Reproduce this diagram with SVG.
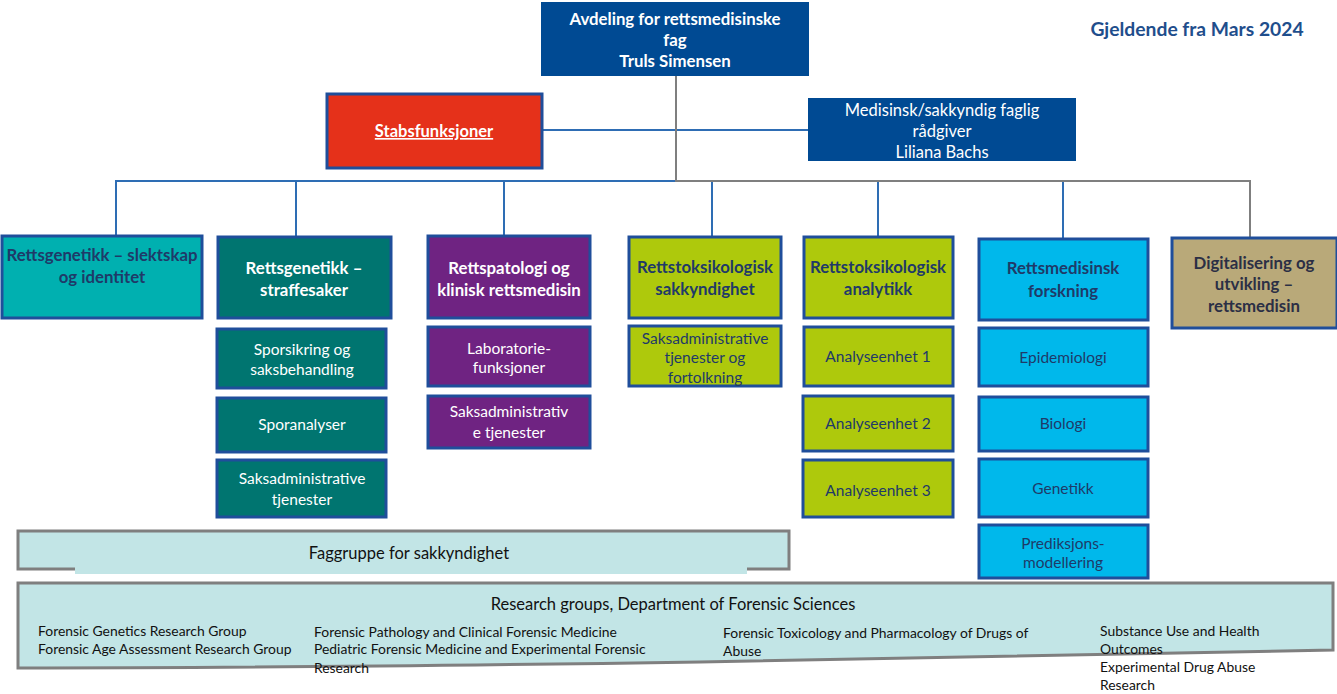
<svg xmlns="http://www.w3.org/2000/svg" width="1337" height="694" viewBox="0 0 1337 694">
<style>
text{font-family:Lato,"Open Sans","Liberation Sans",sans-serif;text-anchor:middle}
.b{font-weight:bold;font-size:16.8px}
.n{font-size:15.5px}
.m{font-size:16.5px}
.w{fill:#ffffff}
.d{fill:#1f3a68}
.box{stroke:#1f4e9b;stroke-width:3}
.teal{fill:#00b0b0}.dteal{fill:#007570}.purp{fill:#6f2382}.lime{fill:#aec90c}.cyan{fill:#00b8eb}.tan{fill:#b9a979}
.cb{stroke:#2e6db4;stroke-width:2;fill:none}
.cg{stroke:#7f7f7f;stroke-width:2;fill:none}
.sm{font-size:13.9px;text-anchor:start;fill:#111}
</style>
<g id="connectors">
<path class="cb" d="M542 130H808"/>
<path class="cb" d="M116 236V181H676"/>
<path class="cb" d="M296 181V237M504 181V235M712 181V236M878 181V236M1063 181V238"/>
<path class="cg" d="M676 76V181H1250V237"/>
</g>
<g id="top"><rect x="541" y="2" width="268" height="74" fill="#004a93"/>
<text class="b w" x="675" y="25">Avdeling for rettsmedisinske</text>
<text class="b w" x="675" y="46">fag</text>
<text class="b w" x="675" y="67">Truls Simensen</text></g>
<text id="date" x="1197" y="36" style="font-weight:bold;font-size:19.3px;fill:#1f4e8c">Gjeldende fra Mars 2024</text>
<g id="stabs"><rect class="box" x="327" y="94" width="215" height="74" fill="#e5311a"/>
<text class="w" x="434" y="137" style="font-weight:bold;font-size:16.5px" text-decoration="underline">Stabsfunksjoner</text></g>
<g id="radgiver"><rect x="808" y="98" width="268" height="63" fill="#004a93"/>
<text class="m w" x="942" y="116">Medisinsk/sakkyndig faglig</text>
<text class="m w" x="942" y="137">rådgiver</text>
<text class="m w" x="942" y="158">Liliana Bachs</text></g>
<g id="n1"><rect class="box teal" x="2" y="236" width="200" height="82"/>
<text class="b d" x="102" y="261">Rettsgenetikk – slektskap</text>
<text class="b d" x="102" y="283">og identitet</text></g>
<g id="n2"><rect class="box dteal" x="218" y="237" width="173" height="81"/>
<text class="b w" x="304" y="274">Rettsgenetikk –</text>
<text class="b w" x="304" y="296">straffesaker</text></g>
<g id="n3"><rect class="box purp" x="428" y="236" width="162" height="82"/>
<text class="b w" x="509" y="274">Rettspatologi og</text>
<text class="b w" x="509" y="296">klinisk rettsmedisin</text></g>
<g id="n4"><rect class="box lime" x="629" y="237" width="152" height="81"/>
<text class="b d" x="705" y="273">Rettstoksikologisk</text>
<text class="b d" x="705" y="295">sakkyndighet</text></g>
<g id="n5"><rect class="box lime" x="804" y="237" width="149" height="81"/>
<text class="b d" x="878" y="273">Rettstoksikologisk</text>
<text class="b d" x="878" y="295">analytikk</text></g>
<g id="n6"><rect class="box cyan" x="979" y="239" width="169" height="81"/>
<text class="b d" x="1063" y="274">Rettsmedisinsk</text>
<text class="b d" x="1063" y="297">forskning</text></g>
<g id="n7"><rect class="box tan" x="1172" y="238" width="165" height="90"/>
<text class="b" x="1254" y="269" fill="#2b2f45">Digitalisering og</text>
<text class="b" x="1254" y="290" fill="#2b2f45">utvikling –</text>
<text class="b" x="1254" y="312" fill="#2b2f45">rettsmedisin</text></g>
<g id="n2a"><rect class="box dteal" x="217" y="329" width="169" height="59"/>
<text class="n w" x="302" y="355">Sporsikring og</text>
<text class="n w" x="302" y="375">saksbehandling</text></g>
<g id="n2b"><rect class="box dteal" x="217" y="398" width="169" height="54"/>
<text class="n w" x="302" y="430">Sporanalyser</text></g>
<g id="n2c"><rect class="box dteal" x="217" y="460" width="169" height="57"/>
<text class="n w" x="302" y="484">Saksadministrative</text>
<text class="n w" x="302" y="505">tjenester</text></g>
<g id="n3a"><rect class="box purp" x="428" y="327" width="162" height="59"/>
<text class="n w" x="509" y="354">Laboratorie-</text>
<text class="n w" x="509" y="373">funksjoner</text></g>
<g id="n3b"><rect class="box purp" x="428" y="396" width="162" height="52"/>
<text class="n w" x="509" y="417">Saksadministrativ</text>
<text class="n w" x="509" y="438">e tjenester</text></g>
<g id="n4a"><rect class="box lime" x="629" y="326" width="152" height="60"/>
<text class="n d" x="705" y="344">Saksadministrative</text>
<text class="n d" x="705" y="363">tjenester og</text>
<text class="n d" x="705" y="383">fortolkning</text></g>
<g id="n5a"><rect class="box lime" x="804" y="327" width="149" height="59"/>
<text class="n d" x="878" y="362">Analyseenhet 1</text></g>
<g id="n5b"><rect class="box lime" x="803" y="396" width="150" height="55"/>
<text class="n d" x="878" y="429">Analyseenhet 2</text></g>
<g id="n5c"><rect class="box lime" x="803" y="460" width="150" height="57"/>
<text class="n d" x="878" y="496">Analyseenhet 3</text></g>
<g id="n6a"><rect class="box cyan" x="979" y="328" width="169" height="58"/>
<text class="n d" x="1063" y="363">Epidemiologi</text></g>
<g id="n6b"><rect class="box cyan" x="979" y="397" width="169" height="54"/>
<text class="n d" x="1063" y="429">Biologi</text></g>
<g id="n6c"><rect class="box cyan" x="979" y="459" width="169" height="58"/>
<text class="n d" x="1063" y="494">Genetikk</text></g>
<g id="n6d"><rect class="box cyan" x="979" y="525" width="169" height="53"/>
<text class="n d" x="1063" y="549">Prediksjons-</text>
<text class="n d" x="1063" y="568">modellering</text></g>
<g id="faggruppe"><rect x="18" y="531" width="771" height="38" fill="#c2e5e6" stroke="#7f7f7f" stroke-width="3"/>
<rect x="75" y="545" width="672" height="29" fill="#c2e5e6"/>
<text class="m" x="409" y="559" fill="#111">Faggruppe for sakkyndighet</text></g>
<g id="research"><path d="M18 583H1333V650Q1000 657 700 662Q300 668 18 668Z" fill="#c2e5e6" stroke="#7f7f7f" stroke-width="3"/>
<text class="m" x="673" y="610" fill="#111">Research groups, Department of Forensic Sciences</text>
<text class="sm" x="38" y="636">Forensic Genetics Research Group</text>
<text class="sm" x="38" y="654">Forensic Age Assessment Research Group</text>
<text class="sm" x="314" y="637">Forensic Pathology and Clinical Forensic Medicine</text>
<text class="sm" x="314" y="654">Pediatric Forensic Medicine and Experimental Forensic</text>
<text class="sm" x="314" y="673">Research</text>
<text class="sm" x="723" y="638">Forensic Toxicology and Pharmacology of Drugs of</text>
<text class="sm" x="723" y="656">Abuse</text>
<text class="sm" x="1100" y="636">Substance Use and Health</text>
<text class="sm" x="1100" y="654">Outcomes</text>
<text class="sm" x="1100" y="672">Experimental Drug Abuse</text>
<text class="sm" x="1100" y="690">Research</text></g>
</svg>
